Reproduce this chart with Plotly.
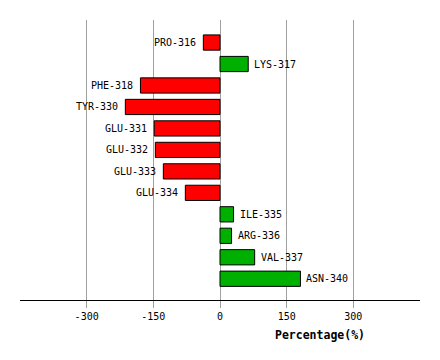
import plotly.graph_objects as go

categories = ["PRO-316", "LYS-317", "PHE-318", "TYR-330", "GLU-331", "GLU-332",
              "GLU-333", "GLU-334", "ILE-335", "ARG-336", "VAL-337", "ASN-340"]
values = [-37.5, 63.5, -179, -213, -148, -145.5, -127.5, -78, 30.5, 26, 78, 181]
tick_vals = [-300, -150, 0, 150, 300]
tick_text = ["-300", "-150", "0", "150", "300"]
axis_title = "Percentage(%)"

RED = "#FF0000"
GREEN = "#00B000"
FONT = "DejaVu Sans Mono"

colors = [GREEN if v >= 0 else RED for v in values]

fig = go.Figure()
fig.add_trace(go.Bar(
    x=values, y=categories, orientation="h",
    marker=dict(color=colors, line=dict(color="black", width=1)),
    width=0.71, hoverinfo="x+y",
))

for c, v in zip(categories, values):
    fig.add_annotation(
        x=v, y=c, xref="x", yref="y", text=c, showarrow=False,
        xanchor="left" if v >= 0 else "right",
        xshift=4 if v >= 0 else -5, yanchor="middle",
        font=dict(family=FONT, size=10, color="black"),
    )

fig.add_annotation(
    x=0.75, y=-0.125, xref="paper", yref="paper", text="<b>" + axis_title + "</b>",
    showarrow=False, xanchor="center", yanchor="middle",
    font=dict(family=FONT, size=11.5, color="black"),
)

fig.update_layout(
    width=424, height=344,
    margin=dict(l=12, r=12, t=12, b=52),
    paper_bgcolor="white", plot_bgcolor="white",
    showlegend=False,
    xaxis=dict(
        range=[-450, 450], tickvals=tick_vals, ticktext=tick_text,
        showgrid=True, gridcolor="#A0A0A0", gridwidth=1,
        zeroline=True, zerolinecolor="#A0A0A0", zerolinewidth=1,
        showline=True, linecolor="black", linewidth=1,
        ticks="outside", ticklen=7, tickcolor="#A0A0A0", tickwidth=1,
        tickfont=dict(family=FONT, size=10, color="black"),
        fixedrange=True,
    ),
    yaxis=dict(
        type="category", categoryorder="array", categoryarray=categories,
        range=[11.99, -1.05], showticklabels=False, showgrid=False,
        zeroline=False, showline=False, ticks="", fixedrange=True,
    ),
)

fig.write_html("out.html")
